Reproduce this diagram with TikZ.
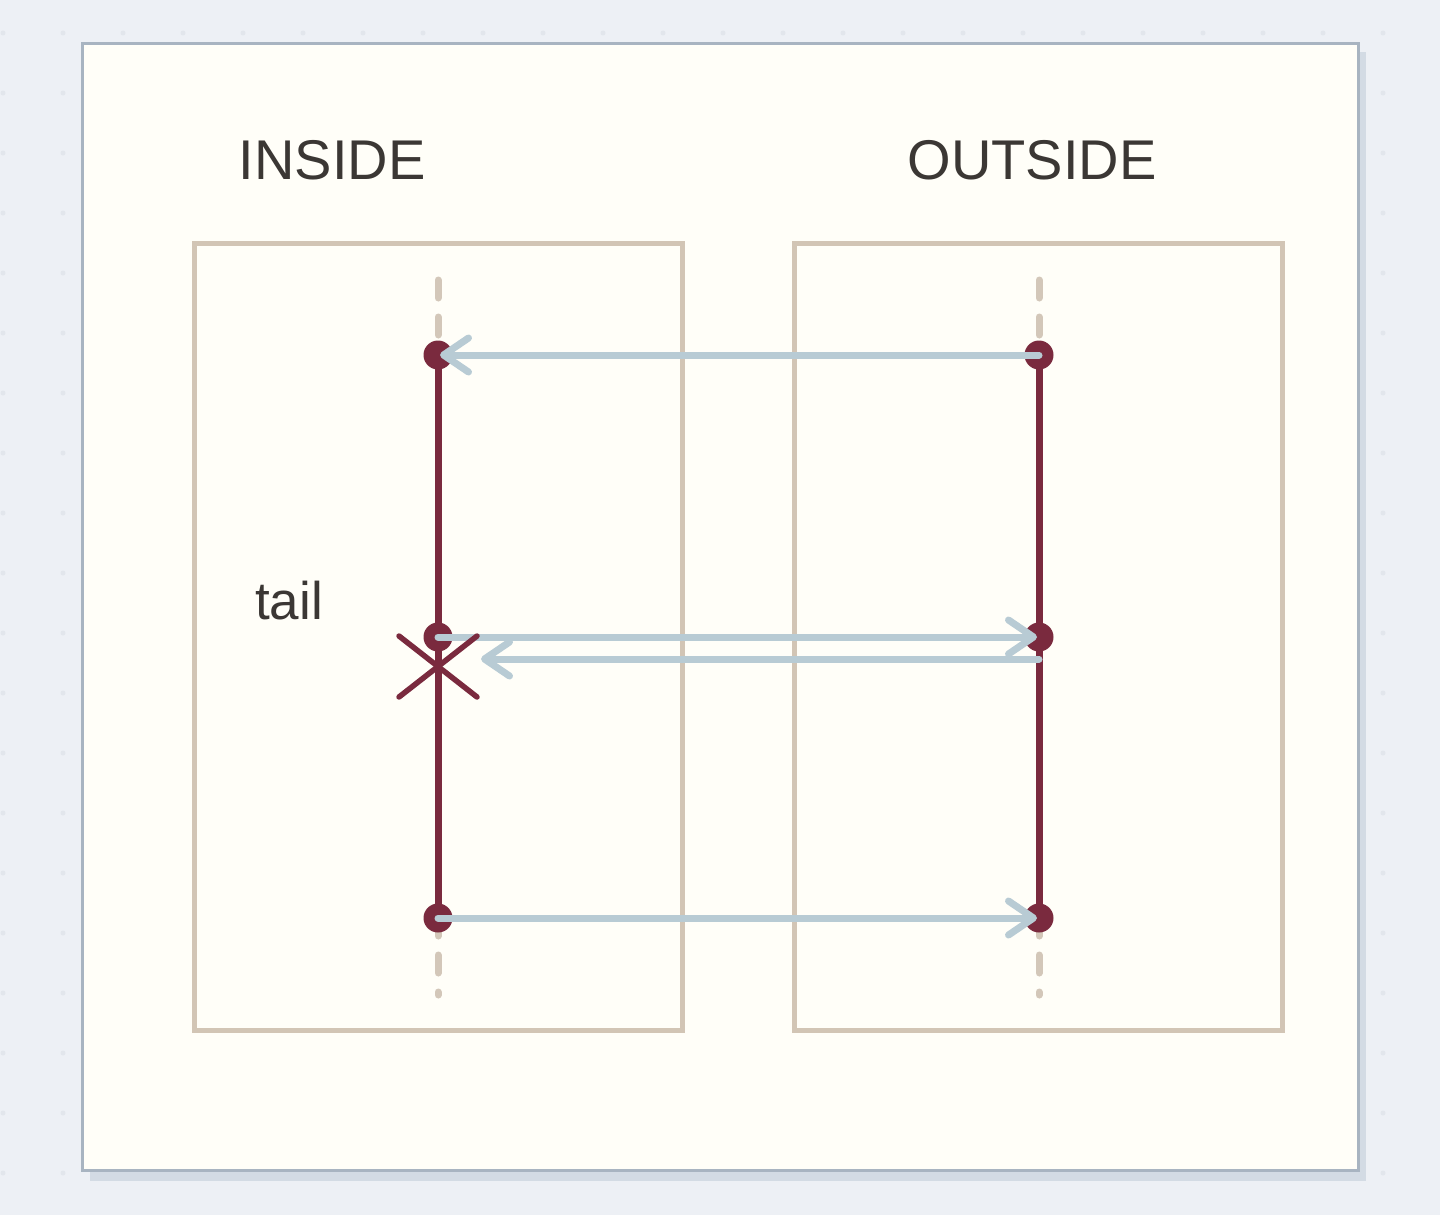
\documentclass[tikz,border=0pt]{standalone}
\usepackage{fontspec}
\setmainfont{Liberation Sans}
\usetikzlibrary{arrows.meta}
\definecolor{bgc}{HTML}{EDF0F5}
\definecolor{dotc}{HTML}{E2E6EC}
\definecolor{panelc}{HTML}{FFFEF8}
\definecolor{panelb}{HTML}{A8B4C1}
\definecolor{shadowc}{HTML}{D3DBE4}
\definecolor{boxb}{HTML}{D2C5B5}
\definecolor{maroon}{HTML}{7A2A3E}
\definecolor{arrowc}{HTML}{B8CBD4}
\definecolor{dashc}{HTML}{D3C7B9}
\definecolor{textc}{HTML}{3B3734}
\tikzset{
  lifebox/.style={draw=boxb, line width=5pt},
  lifeline/.style={draw=dashc, line width=7pt, line cap=round, dash pattern=on 18pt off 19pt},
  actbar/.style={draw=maroon, line width=7pt},
  msgdot/.style={circle, fill=maroon, inner sep=0pt, minimum size=29pt},
  msg/.style={draw=arrowc, line width=7pt, line cap=round,
    -{Straight Barb[length=25pt,width=34pt,round]}},
  title/.style={text=textc, font=\fontsize{56}{60}\selectfont, inner sep=0pt},
  lbl/.style={text=textc, font=\fontsize{53}{56}\selectfont, inner sep=0pt},
  xmark/.style={draw=maroon, line width=5.5pt, line cap=round}
}
\begin{document}
\begin{tikzpicture}[x=1pt,y=-1pt]
\useasboundingbox (0,0) rectangle (1440,1215);
\fill[bgc] (0,0) rectangle (1440,1215);
\foreach \i in {0,...,23}{
  \foreach \j in {0,...,19}{
    \fill[dotc] (3+60*\i,33+60*\j) circle (2.5pt);
  }
}
% panel
\fill[shadowc] (90,52) rectangle (1366,1181);
\filldraw[fill=panelc, draw=panelb, line width=3pt] (82,44) rectangle (1358,1170);
% boxes
\draw[lifebox] (194.5,243.5) rectangle (682.5,1030.5);
\draw[lifebox] (794.5,243.5) rectangle (1282.5,1030.5);
% titles
\node[title] (tin) at (332,160) {INSIDE};
\node[title] (tout) at (1032,160) {OUTSIDE};
\node[lbl, anchor=base west] (tail) at (255,619) {tail};
% lifelines
\coordinate (itop) at (438,280);
\coordinate (ibot) at (438,995);
\coordinate (otop) at (1039,280);
\coordinate (obot) at (1039,995);
\coordinate (pi1) at (438,355);
\coordinate (pi2) at (438,637);
\coordinate (pi3) at (438,918);
\coordinate (po1) at (1039,355);
\coordinate (po2) at (1039,637);
\coordinate (po3) at (1039,918);
\draw[lifeline] (itop) -- (pi1);
\draw[lifeline] (pi3) -- (ibot);
\draw[lifeline] (otop) -- (po1);
\draw[lifeline] (po3) -- (obot);
\draw[actbar] (pi1) -- (pi3);
\draw[actbar] (po1) -- (po3);
\node[msgdot] (i1) at (pi1) {};
\node[msgdot] (i2) at (pi2) {};
\node[msgdot] (i3) at (pi3) {};
\node[msgdot] (o1) at (po1) {};
\node[msgdot] (o2) at (po2) {};
\node[msgdot] (o3) at (po3) {};
% messages
\coordinate (o2b) at (1039,659);
\coordinate (xend) at (481,659);
\draw[msg] (o1.center) -- ([xshift=2pt]i1.center);
\draw[msg] (i2.center) -- ([xshift=-2pt]o2.center);
\draw[msg] (o2b) -- (xend);
\draw[msg] (i3.center) -- ([xshift=-2pt]o3.center);
% X mark
\coordinate (xa) at (399,636);
\coordinate (xb) at (477,697);
\coordinate (xc) at (399,697);
\coordinate (xd) at (477,636);
\draw[xmark] (xa) -- (xb);
\draw[xmark] (xc) -- (xd);
\end{tikzpicture}
\end{document}
